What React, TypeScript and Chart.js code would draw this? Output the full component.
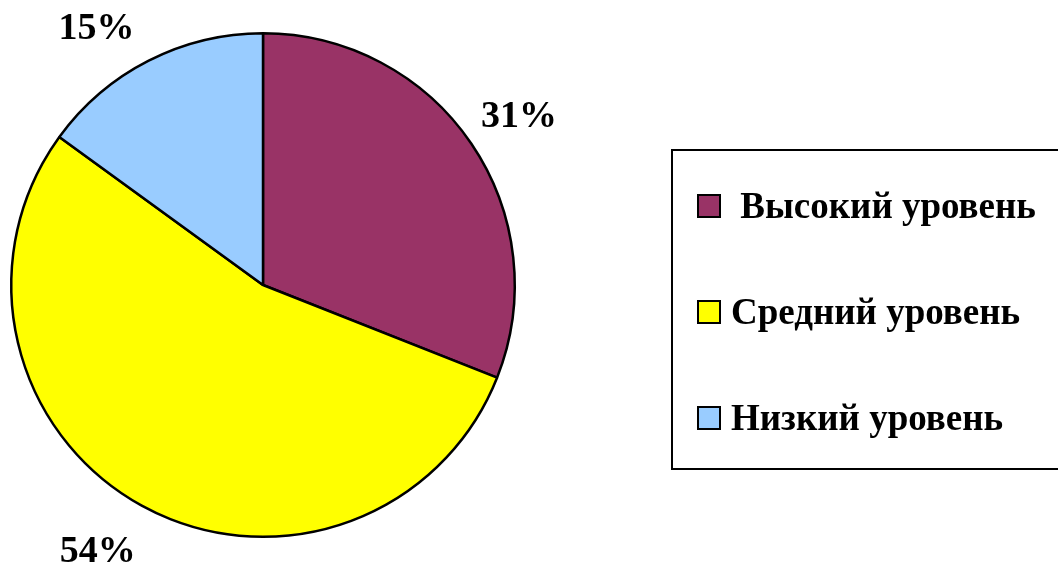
import React, { useEffect, useRef } from "react";
import { Chart, registerables } from "chart.js";

Chart.register(...registerables);

const categories = [" Высокий уровень", "Средний уровень", "Низкий уровень"];
const values = [31, 54, 15];
const valueLabels = ["31%", "54%", "15%"];
const colors = ["#993366", "#FFFF00", "#99CCFF"];
// pixel nudges for label placement (styling only)
const labelNudges = [
  [0, 6],
  [-16, -4],
  [-26, 20],
];

const FONT = '"Liberation Serif", "Times New Roman", serif';

const labelsPlugin = {
  id: "pieLabels",
  afterDatasetsDraw(chart: any) {
    const ctx = chart.ctx;
    const meta = chart.getDatasetMeta(0);
    ctx.save();
    ctx.font = `bold 38px ${FONT}`;
    ctx.fillStyle = "#000";
    ctx.textAlign = "center";
    ctx.textBaseline = "middle";
    meta.data.forEach((arc: any, i: number) => {
      const { x, y, startAngle, endAngle, outerRadius } = arc.getProps(
        ["x", "y", "startAngle", "endAngle", "outerRadius"],
        true
      );
      const mid = (startAngle + endAngle) / 2;
      const r = outerRadius * 1.23;
      const lx = x + Math.cos(mid) * r + labelNudges[i][0];
      const ly = y + Math.sin(mid) * r + labelNudges[i][1];
      ctx.fillText(valueLabels[i], lx, ly);
    });
    ctx.restore();
  },
};

const legendPlugin = {
  id: "boxLegend",
  afterDraw(chart: any) {
    const ctx = chart.ctx;
    const ds = chart.data.datasets[0];
    const boxL = 672;
    const boxT = 150;
    const boxB = 469;
    const boxR = 1070;
    ctx.save();
    ctx.lineWidth = 2;
    ctx.strokeStyle = "#000";
    ctx.strokeRect(boxL, boxT, boxR - boxL, boxB - boxT);
    ctx.font = `bold 37px ${FONT}`;
    ctx.textAlign = "left";
    ctx.textBaseline = "middle";
    const rowStart = 206;
    const rowGap = 106;
    chart.data.labels.forEach((lab: string, i: number) => {
      const cy = rowStart + i * rowGap;
      ctx.fillStyle = ds.backgroundColor[i];
      ctx.fillRect(698, cy - 11, 22, 22);
      ctx.strokeStyle = "#000";
      ctx.lineWidth = 2;
      ctx.strokeRect(698, cy - 11, 22, 22);
      ctx.fillStyle = "#000";
      ctx.fillText(lab, 731, cy + 2);
    });
    ctx.restore();
  },
};

export default function App() {
  const ref = useRef<HTMLCanvasElement>(null);
  useEffect(() => {
    if (!ref.current) return;
    const chart = new Chart(ref.current, {
      type: "pie",
      data: {
        labels: categories,
        datasets: [
          {
            data: values,
            backgroundColor: colors,
            borderColor: "#000",
            borderWidth: 2.5,
          },
        ],
      },
      options: {
        responsive: false,
        animation: false,
        layout: { padding: { left: 10, right: 542, top: 32, bottom: 27 } },
        plugins: {
          legend: { display: false },
          tooltip: { enabled: false },
        },
      },
      plugins: [labelsPlugin, legendPlugin],
    });
    return () => chart.destroy();
  }, []);
  return (
    <div style={{ position: "fixed", left: 0, top: 0, width: 1058, height: 565, background: "#fff" }}>
      <canvas ref={ref} width={1058} height={565} />
    </div>
  );
}
